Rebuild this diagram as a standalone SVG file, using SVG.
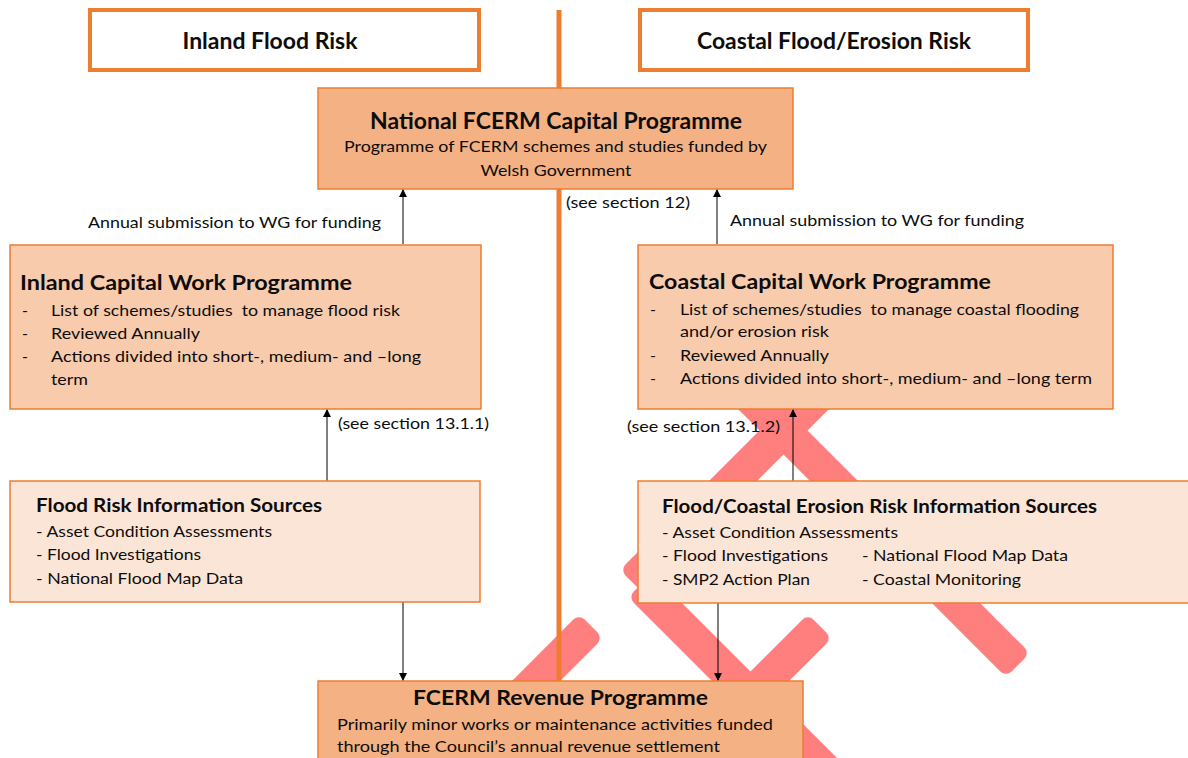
<svg xmlns="http://www.w3.org/2000/svg" width="1188" height="758" viewBox="0 0 1188 758">
<style>
text{font-family:Lato,"Open Sans","Liberation Sans",sans-serif;fill:#0d0d0d;}
.h{font-size:22px;font-weight:bold;text-anchor:middle;}
.t{font-size:21px;font-weight:bold;}
.ts{font-size:19px;font-weight:bold;}
.b{font-size:16px;}
.hdr{fill:#fff;stroke:#ED7D31;stroke-width:4;}
.dark{fill:#F4B183;stroke:#ED7D31;stroke-width:1.5;}
.mid{fill:#F8CBAD;stroke:#ED7D31;stroke-width:1.5;}
.light{fill:#FBE5D6;stroke:#ED7D31;stroke-width:1.5;}
.pink{fill:#FF7F7F;}
.con{stroke:#000;stroke-width:1;fill:none;marker-end:url(#ah);}
</style>
<defs>
<marker id="ah" viewBox="0 0 10 10" refX="10" refY="5" markerWidth="8" markerHeight="8" markerUnits="userSpaceOnUse" orient="auto">
<path d="M0,0 L10,5 L0,10 z" fill="#000"/>
</marker>
</defs>
<rect width="1188" height="758" fill="#fff"/>
<g id="background-marks">
<rect class="pink" x="-168.3" y="-17" width="336.6" height="34" rx="8" transform="translate(751,463) rotate(-45)"/>
<rect class="pink" x="-224.8" y="-17" width="449.7" height="34" rx="8" transform="translate(859,506) rotate(45)"/>
<rect class="pink" x="-155.5" y="-17" width="311" height="34" rx="8" transform="translate(750,695) rotate(45)"/>
<rect class="pink" x="-141.4" y="-17" width="282.8" height="34" rx="8" transform="translate(720,726) rotate(-45)"/>
<rect class="pink" x="-113.8" y="-17" width="227.7" height="34" rx="8" transform="translate(510.5,706.5) rotate(-45)"/>
</g>
<g id="divider">
<line x1="559" y1="10" x2="559" y2="681" stroke="#ED7D31" stroke-width="5"/>
</g>
<g id="connectors">
<line class="con" x1="403" y1="244" x2="403" y2="189"/>
<line class="con" x1="717" y1="244" x2="717" y2="189"/>
<line class="con" x1="327" y1="481" x2="327" y2="409"/>
<line class="con" x1="793" y1="481" x2="793" y2="409"/>
<line class="con" x1="403" y1="602" x2="403" y2="681"/>
<line class="con" x1="718" y1="603" x2="718" y2="681"/>
<text class="b" x="88" y="228" textLength="293" lengthAdjust="spacingAndGlyphs">Annual submission to WG for funding</text>
<text class="b" x="730" y="226" textLength="294" lengthAdjust="spacingAndGlyphs">Annual submission to WG for funding</text>
<text class="b" x="566" y="208" textLength="124" lengthAdjust="spacingAndGlyphs">(see section 12)</text>
<text class="b" x="338" y="429" textLength="151" lengthAdjust="spacingAndGlyphs">(see section 13.1.1)</text>
<text class="b" x="627" y="432" textLength="153" lengthAdjust="spacingAndGlyphs">(see section 13.1.2)</text>
</g>
<g id="inland-header">
<rect class="hdr" x="90" y="10" width="389" height="60"/>
<text class="h" x="270" y="49" textLength="175" lengthAdjust="spacingAndGlyphs">Inland Flood Risk</text>
</g>
<g id="coastal-header">
<rect class="hdr" x="640" y="10" width="388" height="60"/>
<text class="h" x="834" y="49" textLength="274" lengthAdjust="spacingAndGlyphs">Coastal Flood/Erosion Risk</text>
</g>
<g id="national-programme">
<rect class="dark" x="318" y="88" width="475" height="101"/>
<text class="h" x="556" y="129" textLength="372" lengthAdjust="spacingAndGlyphs">National FCERM Capital Programme</text>
<text class="b" x="555.5" y="152" text-anchor="middle" textLength="423" lengthAdjust="spacingAndGlyphs">Programme of FCERM schemes and studies funded by</text>
<text class="b" x="556" y="176" text-anchor="middle" textLength="151" lengthAdjust="spacingAndGlyphs">Welsh Government</text>
</g>
<g id="inland-capital">
<rect class="mid" x="10" y="245" width="471" height="164"/>
<text class="t" x="20" y="290" textLength="332" lengthAdjust="spacingAndGlyphs">Inland Capital Work Programme</text>
<text class="b" x="22" y="316">-</text>
<text class="b" x="51" y="316" xml:space="preserve" textLength="349" lengthAdjust="spacingAndGlyphs">List of schemes/studies  to manage flood risk</text>
<text class="b" x="22" y="339">-</text>
<text class="b" x="51" y="339" textLength="149" lengthAdjust="spacingAndGlyphs">Reviewed Annually</text>
<text class="b" x="22" y="362">-</text>
<text class="b" x="51" y="362" textLength="370" lengthAdjust="spacingAndGlyphs">Actions divided into short-, medium- and –long</text>
<text class="b" x="51" y="385" textLength="37" lengthAdjust="spacingAndGlyphs">term</text>
</g>
<g id="coastal-capital">
<rect class="mid" x="638" y="245" width="475" height="164"/>
<text class="t" x="649" y="289" textLength="342" lengthAdjust="spacingAndGlyphs">Coastal Capital Work Programme</text>
<text class="b" x="650" y="315">-</text>
<text class="b" x="680" y="315" xml:space="preserve" textLength="399" lengthAdjust="spacingAndGlyphs">List of schemes/studies  to manage coastal flooding</text>
<text class="b" x="680" y="337" textLength="149" lengthAdjust="spacingAndGlyphs">and/or erosion risk</text>
<text class="b" x="650" y="361">-</text>
<text class="b" x="680" y="361" textLength="149" lengthAdjust="spacingAndGlyphs">Reviewed Annually</text>
<text class="b" x="650" y="384">-</text>
<text class="b" x="680" y="384" textLength="412" lengthAdjust="spacingAndGlyphs">Actions divided into short-, medium- and –long term</text>
</g>
<g id="flood-risk-sources">
<rect class="light" x="10" y="481" width="470" height="121"/>
<text class="ts" x="36" y="512" textLength="286" lengthAdjust="spacingAndGlyphs">Flood Risk Information Sources</text>
<text class="b" x="36" y="537" textLength="236" lengthAdjust="spacingAndGlyphs">- Asset Condition Assessments</text>
<text class="b" x="36" y="560" textLength="165" lengthAdjust="spacingAndGlyphs">- Flood Investigations</text>
<text class="b" x="36" y="584" textLength="207" lengthAdjust="spacingAndGlyphs">- National Flood Map Data</text>
</g>
<g id="coastal-sources">
<rect class="light" x="638" y="481" width="556" height="122"/>
<text class="ts" x="662" y="513" textLength="435" lengthAdjust="spacingAndGlyphs">Flood/Coastal Erosion Risk Information Sources</text>
<text class="b" x="662" y="538" textLength="236" lengthAdjust="spacingAndGlyphs">- Asset Condition Assessments</text>
<text class="b" x="662" y="561" textLength="166" lengthAdjust="spacingAndGlyphs">- Flood Investigations</text>
<text class="b" x="862" y="561" textLength="206" lengthAdjust="spacingAndGlyphs">- National Flood Map Data</text>
<text class="b" x="662" y="585" textLength="148" lengthAdjust="spacingAndGlyphs">- SMP2 Action Plan</text>
<text class="b" x="862" y="585" textLength="159" lengthAdjust="spacingAndGlyphs">- Coastal Monitoring</text>
</g>
<g id="revenue-programme">
<rect class="dark" x="318" y="681" width="485" height="80"/>
<text class="t" x="560.5" y="705" text-anchor="middle" textLength="295" lengthAdjust="spacingAndGlyphs">FCERM Revenue Programme</text>
<text class="b" x="337" y="730" textLength="436" lengthAdjust="spacingAndGlyphs">Primarily minor works or maintenance activities funded</text>
<text class="b" x="337" y="752" textLength="383" lengthAdjust="spacingAndGlyphs">through the Council’s annual revenue settlement</text>
</g>
</svg>
